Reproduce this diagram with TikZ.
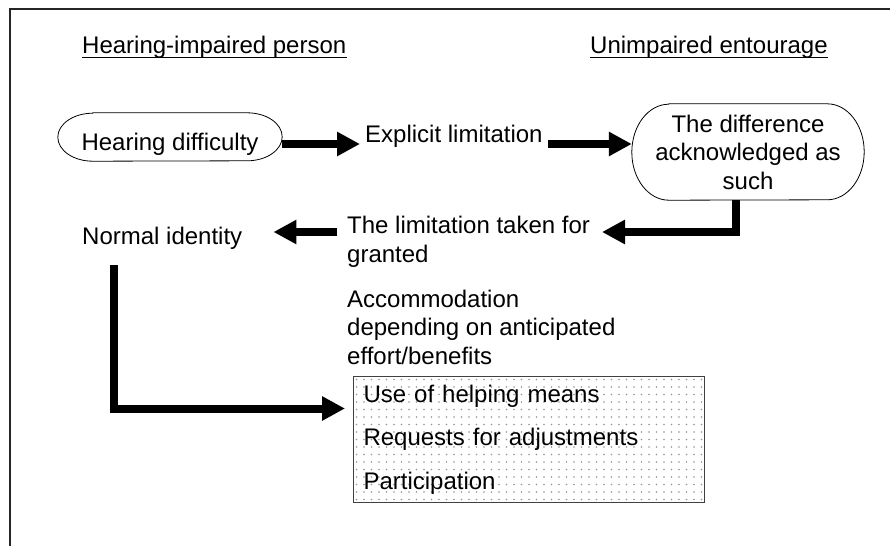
\documentclass[tikz,border=0pt]{standalone}
\usepackage{fontspec}
\setmainfont{Liberation Sans}
\usetikzlibrary{arrows.meta}
\begin{document}
\begin{tikzpicture}[x=1pt,y=1pt,
  txt/.style={inner sep=0pt, font=\fontsize{24}{28.5}\selectfont},
  bigarrow/.style={line width=8pt, -{Triangle[length=23pt,width=23pt]}, line join=miter},
  outline/.style={line width=0.8pt},
  uline/.style={line width=1.1pt},
]
\useasboundingbox (0,0) rectangle (890,-546);
% frame
\draw[line width=1.3pt, black!85] (10,-546) -- (10,-9) -- (890,-9);

% headings
\node[txt, anchor=base west] (hh) at (82,-53) {Hearing-impaired person};
\node[txt, anchor=base west] (uh) at (590,-53) {Unimpaired entourage};
\draw[uline] ([yshift=-4.5pt]hh.base west) -- ([yshift=-4.5pt]hh.base east);
\draw[uline] ([yshift=-4.5pt]uh.base west) -- ([yshift=-4.5pt]uh.base east);

% Hearing difficulty
\node[txt, minimum width=224pt, minimum height=48pt, text height=31pt, text depth=5pt] (hd) at (170,-137) {Hearing difficulty};
\draw[outline] ([xshift=35pt]hd.north west) -- ([xshift=-35pt]hd.north east)
  arc[start angle=90, end angle=-90, x radius=35pt, y radius=24pt]
  -- ([xshift=35pt]hd.south west)
  arc[start angle=270, end angle=90, x radius=35pt, y radius=24pt] -- cycle;

% Explicit limitation
\node[txt, anchor=base west] (el) at (365,-142) {Explicit limitation};

% The difference acknowledged as such
\node[txt, align=center, minimum width=232pt, minimum height=96pt] (diff) at (748,-152) {The difference\\acknowledged as\\such};
\draw[outline] ([xshift=37pt]diff.north west) -- ([xshift=-37pt]diff.north east)
  arc[start angle=90, end angle=-90, x radius=37pt, y radius=48pt]
  -- ([xshift=37pt]diff.south west)
  arc[start angle=270, end angle=90, x radius=37pt, y radius=48pt] -- cycle;

% The limitation taken for granted
\node[txt, align=left, anchor=north west] (lim) at (347,-216) {The limitation taken for\\granted};

% Normal identity
\node[txt, anchor=base west] (ni) at (82,-244) {Normal identity};

% Accommodation
\node[txt, align=left, anchor=north west] (acc) at (347,-289.5) {Accommodation\\depending on anticipated\\effort/benefits};

% dotted box
\node[txt, anchor=north west, text width=331pt, align=left, inner xsep=10pt, inner ysep=0pt,
  minimum height=126pt, draw=black!75, line width=1pt, fill=white,
  font=\fontsize{24}{43.5}\selectfont,
  path picture={
    \foreach \i in {0,...,46}{
      \foreach \j in {0,...,16}{
        \fill[black!42] ([xshift=\i*7.5pt+3pt, yshift=-\j*7.5pt-3pt]path picture bounding box.north west) circle (0.95pt);
      }
    }
  }] (box) at (353,-376) {Use of helping means\\Requests for adjustments\\Participation};

% arrows
\coordinate (a1s) at ([yshift=-7pt]hd.east);
\draw[bigarrow, shorten >=5pt] (a1s) -- (a1s -| el.west);
\coordinate (a2e) at ([yshift=8pt]diff.west);
\draw[bigarrow, shorten <=5pt] (a2e -| el.east) -- (a2e);
\coordinate (a3t) at (602,-232);
\draw[bigarrow] ([xshift=-12pt]diff.south) |- (a3t);
\draw[bigarrow, shorten <=10pt, shorten >=31pt] (lim.west |- a3t) -- (ni.east |- a3t);
\coordinate (a5s) at ([xshift=32pt,yshift=-16pt]ni.south west);
\coordinate (a5t) at ([xshift=-8pt,yshift=31pt]box.west);
\draw[bigarrow] (a5s) |- (a5t);
\end{tikzpicture}
\end{document}
